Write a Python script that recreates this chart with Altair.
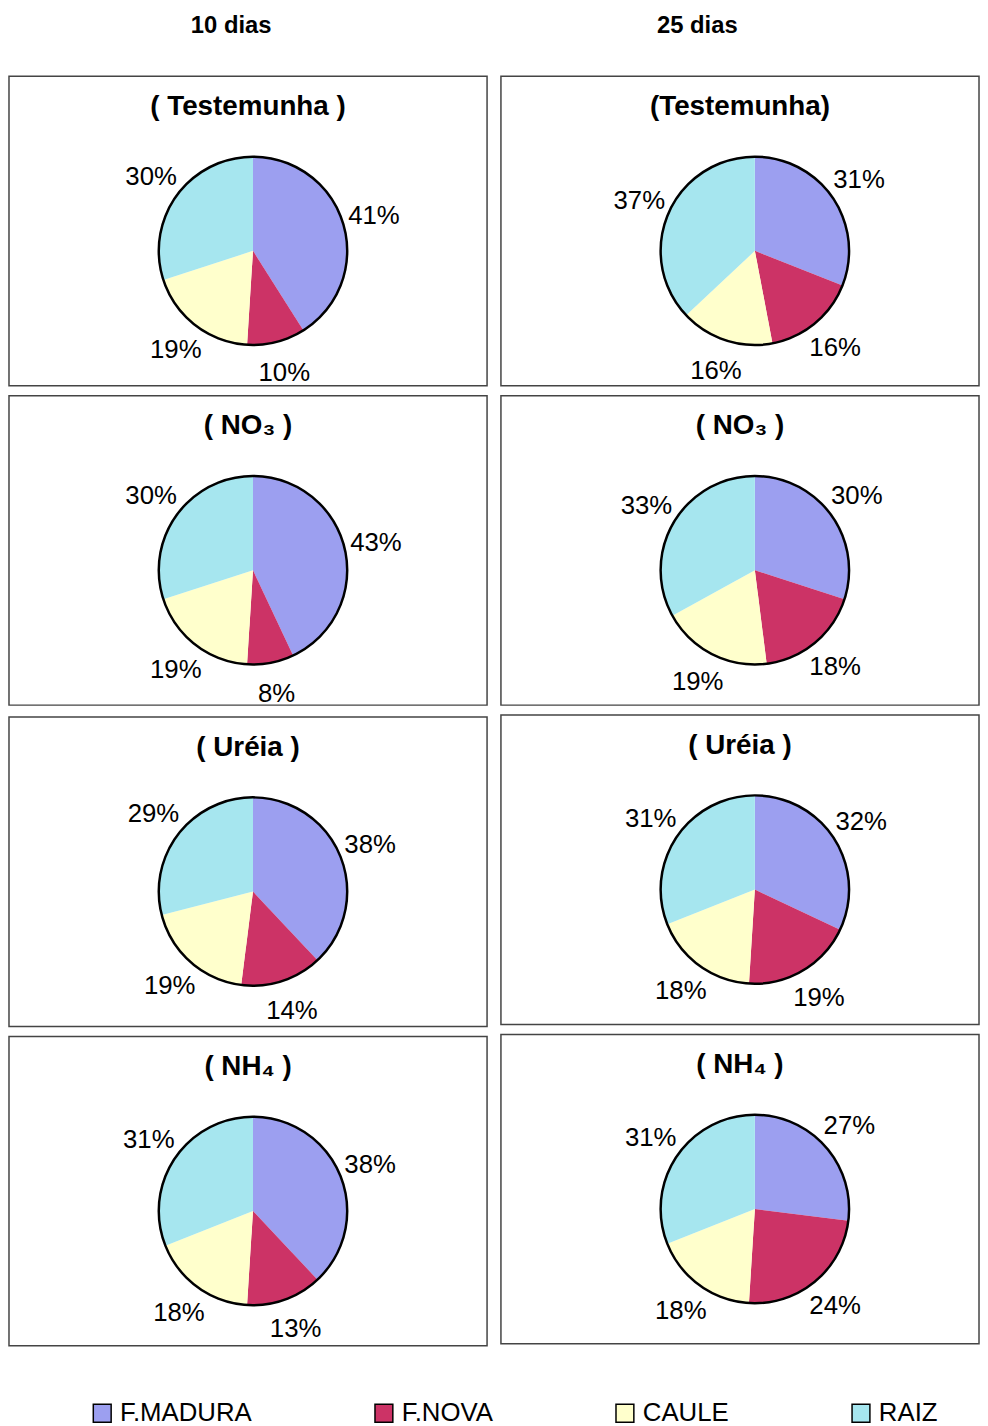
import math
import altair as alt
import pandas as pd

# ---- data ----
parts = ["F.MADURA", "F.NOVA", "CAULE", "RAIZ"]
colors = ["#9c9ff0", "#cc3366", "#ffffcc", "#a6e6ef"]

titles_10 = ["( Testemunha )", "( NO₃ )", "( Uréia )", "( NH₄ )"]
titles_25 = ["(Testemunha)", "( NO₃ )", "( Uréia )", "( NH₄ )"]

testemunha_10 = [41, 10, 19, 30]
no3_10 = [43, 8, 19, 30]
ureia_10 = [38, 14, 19, 29]
nh4_10 = [38, 13, 18, 31]

testemunha_25 = [31, 16, 16, 37]
no3_25 = [30, 18, 19, 33]
ureia_25 = [32, 19, 18, 31]
nh4_25 = [27, 24, 18, 31]

header_10 = "10 dias"
header_25 = "25 dias"

# ---- layout constants ----
PW, PH = 482, 312
CY = 176
R = 95
LABEL_R = 127
FONT = "Liberation Sans"

legend = alt.Legend(
    title=None, orient="none", legendX=81, legendY=1335,
    direction="horizontal", columns=4, columnPadding=120,
    symbolType="square", symbolSize=324, symbolStrokeColor="black",
    symbolStrokeWidth=1.5, labelFontSize=26, labelFont=FONT,
    labelColor="black", labelOffset=5,
)


def panel(title, values, cx):
    df = pd.DataFrame({
        "part": parts,
        "value": values,
        "ord": list(range(len(parts))),
        "label": [f"{v}%" for v in values],
    })
    base = alt.Chart(df).encode(
        theta=alt.Theta("value:Q", stack=True),
        order=alt.Order("ord:Q"),
        x=alt.value(cx),
        y=alt.value(CY),
    )
    pie = base.mark_arc(radius=R, strokeWidth=0).encode(
        color=alt.Color(
            "part:N",
            scale=alt.Scale(domain=parts, range=colors),
            legend=legend,
        )
    )
    labels = base.mark_text(
        radius=LABEL_R, fontSize=26, font=FONT, color="black",
        align="center", baseline="middle",
    ).encode(text="label:N")
    one = pd.DataFrame({"a": [1]})
    ring = alt.Chart(one).mark_arc(
        radius=R, theta=0, theta2=2 * math.pi, fillOpacity=0,
        stroke="black", strokeWidth=2.5,
    ).encode(x=alt.value(cx), y=alt.value(CY))
    head = alt.Chart(one).mark_text(
        text=title, fontSize=28, fontWeight="bold", font=FONT, color="black",
        align="center", baseline="middle",
    ).encode(x=alt.value(PW / 2), y=alt.value(31))
    return alt.layer(pie, labels, ring, head).properties(width=PW, height=PH)


col10 = alt.vconcat(
    panel(titles_10[0], testemunha_10, 246),
    panel(titles_10[1], no3_10, 246),
    panel(titles_10[2], ureia_10, 246),
    panel(titles_10[3], nh4_10, 246),
    spacing=8,
    title=alt.TitleParams(header_10, fontSize=24, fontWeight="bold", font=FONT,
                          anchor="middle", offset=38, dx=-17, color="black"),
)
col25 = alt.vconcat(
    panel(titles_25[0], testemunha_25, 256),
    panel(titles_25[1], no3_25, 256),
    panel(titles_25[2], ureia_25, 256),
    panel(titles_25[3], nh4_25, 256),
    spacing=8,
    title=alt.TitleParams(header_25, fontSize=24, fontWeight="bold", font=FONT,
                          anchor="middle", offset=38, dx=-43, color="black"),
)

chart = alt.hconcat(col10, col25, spacing=12).properties(padding=0).configure(
    font=FONT
).configure_view(
    stroke="#444444", strokeWidth=1.5
)

chart.save("out.html", embed_options={"renderer": "svg", "actions": False})
